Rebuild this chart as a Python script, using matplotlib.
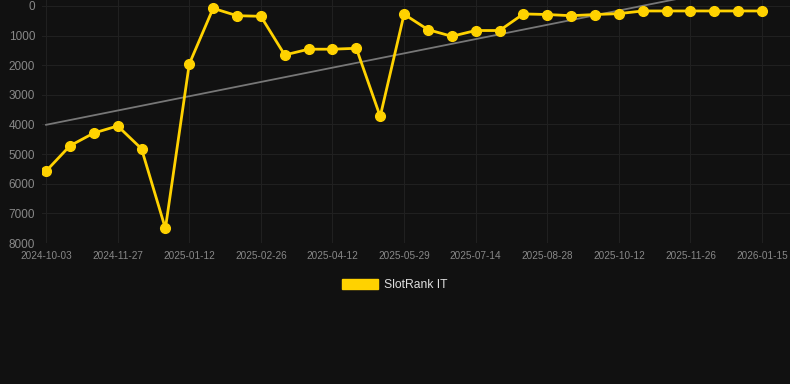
import numpy as np
import matplotlib
matplotlib.use('Agg')
import matplotlib.pyplot as plt
from matplotlib.patches import Patch

plt.rcParams['font.family'] = ['Liberation Sans', 'DejaVu Sans']

# rank per observation (category axis, labels every 3rd point)
ranks = [5575, 4720, 4290, 4050, 4820, 7510, 1960, 80, 330, 350,
         1655, 1460, 1460, 1430, 3730, 280, 800, 1025, 830, 830,
         270, 290, 330, 290, 260, 170, 170, 170, 170, 170, 170]
tick_labels = ['2024-10-03', '2024-11-27', '2025-01-12', '2025-02-26',
               '2025-04-12', '2025-05-29', '2025-07-14', '2025-08-28',
               '2025-10-12', '2025-11-26', '2026-01-15']
series_name = 'SlotRank IT'

bg = '#111111'
gold = '#FFD200'

x = np.arange(len(ranks))
coef = np.polyfit(x, ranks, 1)
trend = np.polyval(coef, x)

fig = plt.figure(figsize=(7.9, 3.84), dpi=100, facecolor=bg)
ax = fig.add_axes([42/790, 1 - 243/384, 1 - 42/790, 243/384])
ax.set_facecolor(bg)

ax.plot(x, trend, color='#777777', lw=1.3, zorder=2)
ax.plot(x, ranks, color=gold, lw=2.0, marker='o', ms=7, zorder=3,
        label=series_name)

ax.set_xlim(-0.17, 31.17)
ax.set_ylim(8000, -200)
ax.set_yticks(range(0, 8001, 1000))
ax.set_xticks(x[::3])
ax.set_xticklabels(tick_labels)
ax.grid(True, color='#202020', lw=0.8)
ax.tick_params(axis='x', colors='#888888', labelsize=7.2, length=0, pad=6)
ax.tick_params(axis='y', colors='#888888', labelsize=8.5, length=0, pad=5)
for s in ax.spines.values():
    s.set_visible(False)

fig.legend(handles=[Patch(color=gold, label=series_name)], loc='center',
           bbox_to_anchor=(0.5, 1 - 285/384), frameon=False,
           labelcolor='#dddddd', fontsize=8.7, handlelength=3.0,
           handleheight=0.9, handletextpad=0.5)

fig.savefig('out.png', dpi=100, facecolor=bg)
